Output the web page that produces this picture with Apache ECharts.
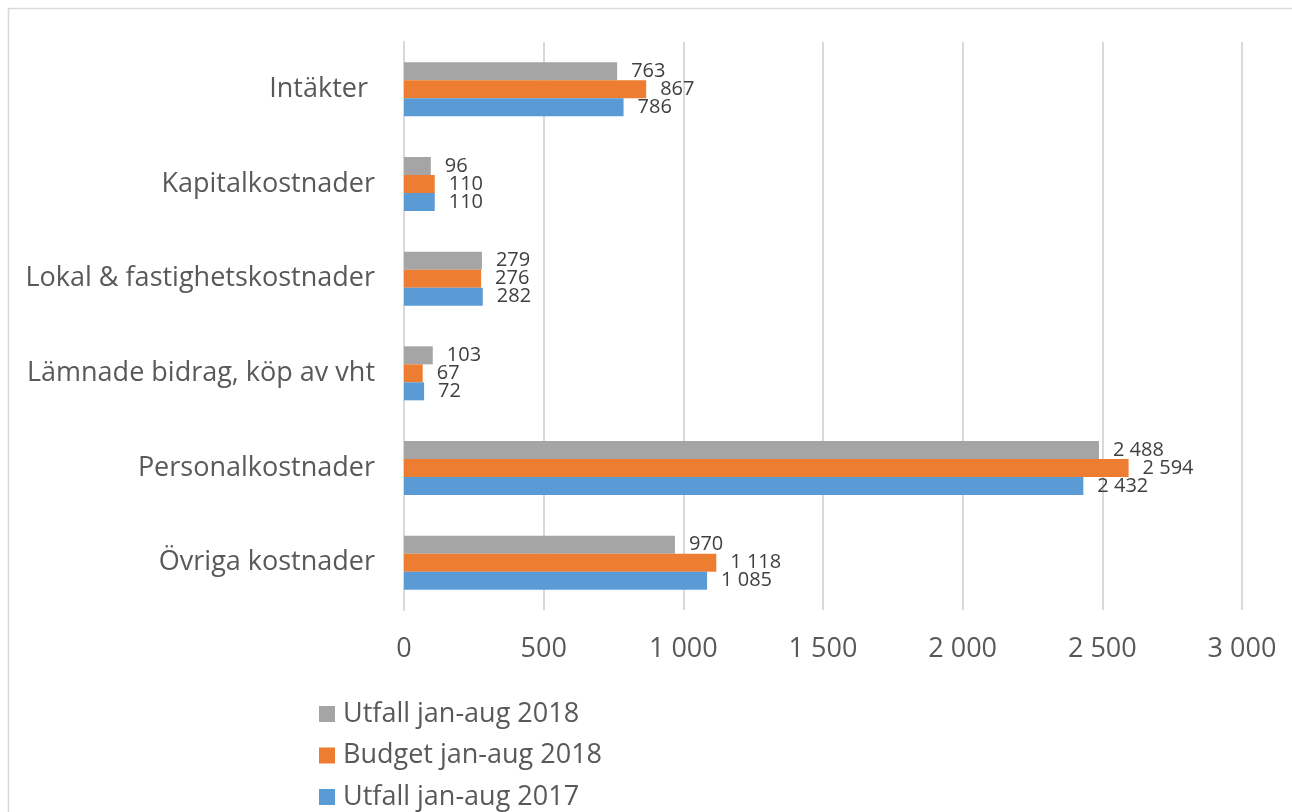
<!DOCTYPE html>
<html>
<head>
<meta charset="utf-8">
<script src="https://cdn.jsdelivr.net/npm/echarts@6/dist/echarts.min.js"></script>
<style>
    html, body { margin: 0; padding: 0; background: #fff; }
    #main { width: 1292px; height: 812px; }
</style>
</head>
<body>
<div id="main"></div>
<script>
// kategorier (uppifrån och ned)
var categories = ['Intäkter ', 'Kapitalkostnader', 'Lokal & fastighetskostnader', 'Lämnade bidrag, köp av vht', 'Personalkostnader', 'Övriga kostnader'];

var seriesNames = ['Utfall jan-aug 2018', 'Budget jan-aug 2018', 'Utfall jan-aug 2017'];
var utfall2018 = [763, 96, 279, 103, 2488, 970];
var budget2018 = [867, 110, 276, 67, 2594, 1118];
var utfall2017 = [786, 110, 282, 72, 2432, 1085];

var colors = ['#a5a5a5', '#ed7d31', '#5b9bd5'];
var font = '"Open Sans", sans-serif';

// tusentalsavgränsare med mellanslag
function fmt(v) {
    return String(v).replace(/\B(?=(\d{3})+(?!\d))/g, ' ');
}

var myChart = echarts.init(document.getElementById('main'));

function makeSeries(name, data, i) {
    return {
        name: name,
        type: 'bar',
        data: data,
        barWidth: 18,
        barGap: '0%',
        itemStyle: { color: colors[i] },
        label: {
            show: true,
            position: 'right',
            distance: 14,
            color: '#404040',
            fontFamily: font,
            fontSize: 20,
            formatter: function (p) { return fmt(p.value); }
        }
    };
}

var option = {
    animation: false,
    backgroundColor: '#fff',
    graphic: [{
        type: 'rect',
        shape: { x: 8.5, y: 8.5, width: 1290, height: 820 },
        style: { fill: 'none', stroke: '#d9d9d9', lineWidth: 1.5 },
        silent: true
    }],
    grid: { left: 404, right: 50, top: 42, bottom: 202 },
    legend: {
        orient: 'vertical',
        left: 319,
        top: 699,
        padding: 0,
        itemWidth: 16,
        itemHeight: 16,
        itemGap: 11.5,
        icon: 'rect',
        data: seriesNames,
        textStyle: { color: '#595959', fontFamily: font, fontSize: 27, lineHeight: 30, padding: [0, 0, 0, 3] }
    },
    xAxis: {
        type: 'value',
        min: 0,
        max: 3000,
        interval: 500,
        axisLine: { show: false },
        axisTick: { show: false },
        splitLine: { lineStyle: { color: '#d9d9d9', width: 2 } },
        axisLabel: {
            margin: 26,
            color: '#595959',
            fontFamily: font,
            fontSize: 27,
            formatter: function (v) { return fmt(v); }
        }
    },
    yAxis: {
        type: 'category',
        data: categories,
        inverse: true,
        axisLine: { show: true, lineStyle: { color: '#d9d9d9', width: 2 } },
        axisTick: { show: false },
        axisLabel: {
            margin: 29,
            color: '#595959',
            fontFamily: font,
            fontSize: 27
        }
    },
    series: [
        makeSeries(seriesNames[0], utfall2018, 0),
        makeSeries(seriesNames[1], budget2018, 1),
        makeSeries(seriesNames[2], utfall2017, 2)
    ]
};

myChart.setOption(option);
</script>
</body>
</html>
